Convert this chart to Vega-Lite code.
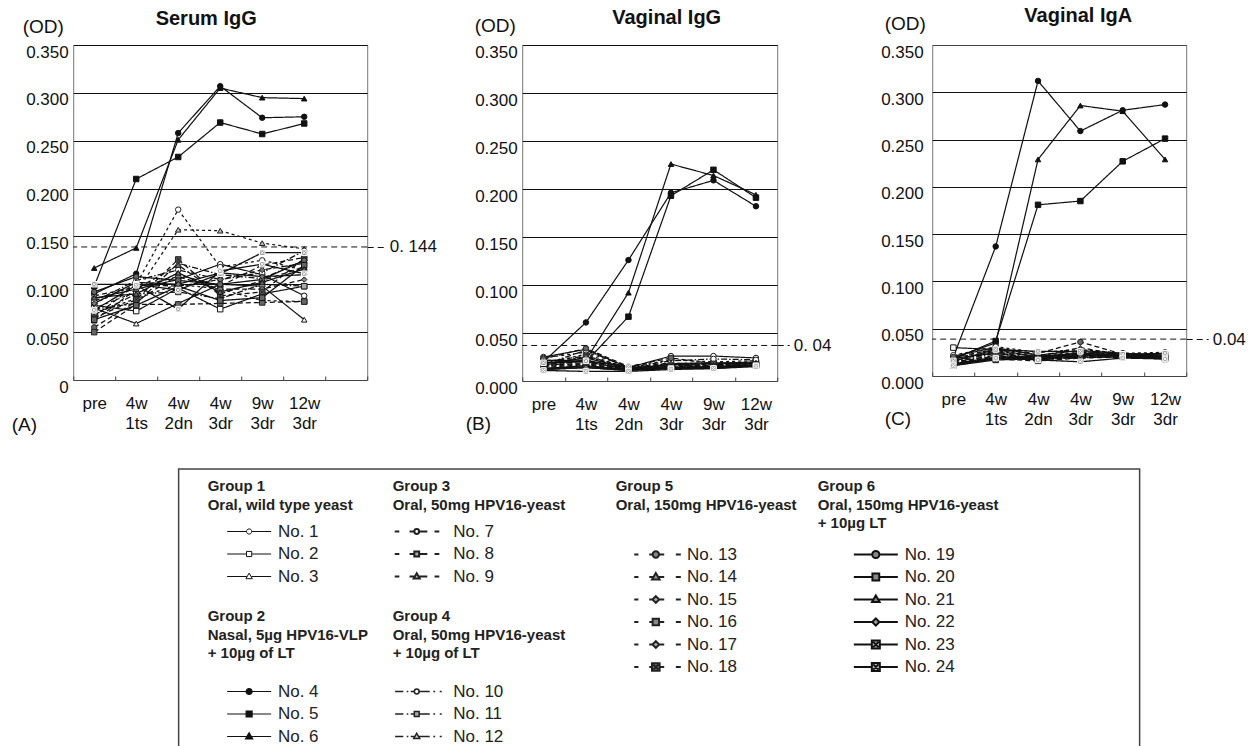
{
"$schema": "https://vega.github.io/schema/vega-lite/v6.json",
"padding": {"left": 10, "top": 5, "right": 0, "bottom": 0},
"background": "white",
"config": {
  "font": "Liberation Sans",
  "view": {"stroke": "#777", "strokeWidth": 1},
  "axis": {"labelFontSize": 17, "labelColor": "#111", "titleColor": "#111", "domain": false, "labelFont": "Liberation Sans", "titleFont": "Liberation Sans"},
  "title": {"font": "Liberation Sans", "fontSize": 20, "fontWeight": "bold", "color": "#111"},
  "legend": {"titleFontSize": 15, "titleFontWeight": "bold", "titleLineHeight": 18.5, "titleColor": "#222", "titleAnchor": "start", "titleBaseline": "top", "titleLimit": 400, "labelFontSize": 17, "labelColor": "#222", "labelBaseline": "middle", "labelLimit": 200, "symbolSize": 16, "symbolOpacity": 1, "rowPadding": 4.5, "padding": 0, "direction": "vertical", "orient": "none"}
},
"datasets": {
"od": [
{"p":"A","g":1,"n":1,"t":"pre","v":0.085},{"p":"A","g":1,"n":1,"t":"4w 1ts","v":0.095},{"p":"A","g":1,"n":1,"t":"4w 2dn","v":0.105},{"p":"A","g":1,"n":1,"t":"4w 3dr","v":0.121},{"p":"A","g":1,"n":1,"t":"9w 3dr","v":0.110},{"p":"A","g":1,"n":1,"t":"12w 3dr","v":0.088},
{"p":"A","g":1,"n":2,"t":"pre","v":0.078},{"p":"A","g":1,"n":2,"t":"4w 1ts","v":0.072},{"p":"A","g":1,"n":2,"t":"4w 2dn","v":0.096},{"p":"A","g":1,"n":2,"t":"4w 3dr","v":0.074},{"p":"A","g":1,"n":2,"t":"9w 3dr","v":0.090},{"p":"A","g":1,"n":2,"t":"12w 3dr","v":0.098},
{"p":"A","g":1,"n":3,"t":"pre","v":0.075},{"p":"A","g":1,"n":3,"t":"4w 1ts","v":0.059},{"p":"A","g":1,"n":3,"t":"4w 2dn","v":0.080},{"p":"A","g":1,"n":3,"t":"4w 3dr","v":0.100},{"p":"A","g":1,"n":3,"t":"9w 3dr","v":0.098},{"p":"A","g":1,"n":3,"t":"12w 3dr","v":0.063},
{"p":"A","g":2,"n":4,"t":"pre","v":0.090},{"p":"A","g":2,"n":4,"t":"4w 1ts","v":0.111},{"p":"A","g":2,"n":4,"t":"4w 2dn","v":0.258},{"p":"A","g":2,"n":4,"t":"4w 3dr","v":0.307},{"p":"A","g":2,"n":4,"t":"9w 3dr","v":0.274},{"p":"A","g":2,"n":4,"t":"12w 3dr","v":0.275},
{"p":"A","g":2,"n":5,"t":"pre","v":0.098},{"p":"A","g":2,"n":5,"t":"4w 1ts","v":0.210},{"p":"A","g":2,"n":5,"t":"4w 2dn","v":0.233},{"p":"A","g":2,"n":5,"t":"4w 3dr","v":0.269},{"p":"A","g":2,"n":5,"t":"9w 3dr","v":0.257},{"p":"A","g":2,"n":5,"t":"12w 3dr","v":0.268},
{"p":"A","g":2,"n":6,"t":"pre","v":0.117},{"p":"A","g":2,"n":6,"t":"4w 1ts","v":0.138},{"p":"A","g":2,"n":6,"t":"4w 2dn","v":0.251},{"p":"A","g":2,"n":6,"t":"4w 3dr","v":0.305},{"p":"A","g":2,"n":6,"t":"9w 3dr","v":0.295},{"p":"A","g":2,"n":6,"t":"12w 3dr","v":0.294},
{"p":"A","g":3,"n":7,"t":"pre","v":0.080},{"p":"A","g":3,"n":7,"t":"4w 1ts","v":0.100},{"p":"A","g":3,"n":7,"t":"4w 2dn","v":0.178},{"p":"A","g":3,"n":7,"t":"4w 3dr","v":0.118},{"p":"A","g":3,"n":7,"t":"9w 3dr","v":0.125},{"p":"A","g":3,"n":7,"t":"12w 3dr","v":0.115},
{"p":"A","g":3,"n":8,"t":"pre","v":0.070},{"p":"A","g":3,"n":8,"t":"4w 1ts","v":0.085},{"p":"A","g":3,"n":8,"t":"4w 2dn","v":0.100},{"p":"A","g":3,"n":8,"t":"4w 3dr","v":0.095},{"p":"A","g":3,"n":8,"t":"9w 3dr","v":0.083},{"p":"A","g":3,"n":8,"t":"12w 3dr","v":0.082},
{"p":"A","g":3,"n":9,"t":"pre","v":0.075},{"p":"A","g":3,"n":9,"t":"4w 1ts","v":0.092},{"p":"A","g":3,"n":9,"t":"4w 2dn","v":0.157},{"p":"A","g":3,"n":9,"t":"4w 3dr","v":0.156},{"p":"A","g":3,"n":9,"t":"9w 3dr","v":0.143},{"p":"A","g":3,"n":9,"t":"12w 3dr","v":0.137},
{"p":"A","g":4,"n":10,"t":"pre","v":0.082},{"p":"A","g":4,"n":10,"t":"4w 1ts","v":0.104},{"p":"A","g":4,"n":10,"t":"4w 2dn","v":0.115},{"p":"A","g":4,"n":10,"t":"4w 3dr","v":0.105},{"p":"A","g":4,"n":10,"t":"9w 3dr","v":0.112},{"p":"A","g":4,"n":10,"t":"12w 3dr","v":0.135},
{"p":"A","g":4,"n":11,"t":"pre","v":0.068},{"p":"A","g":4,"n":11,"t":"4w 1ts","v":0.090},{"p":"A","g":4,"n":11,"t":"4w 2dn","v":0.092},{"p":"A","g":4,"n":11,"t":"4w 3dr","v":0.085},{"p":"A","g":4,"n":11,"t":"9w 3dr","v":0.100},{"p":"A","g":4,"n":11,"t":"12w 3dr","v":0.098},
{"p":"A","g":4,"n":12,"t":"pre","v":0.074},{"p":"A","g":4,"n":12,"t":"4w 1ts","v":0.080},{"p":"A","g":4,"n":12,"t":"4w 2dn","v":0.122},{"p":"A","g":4,"n":12,"t":"4w 3dr","v":0.110},{"p":"A","g":4,"n":12,"t":"9w 3dr","v":0.106},{"p":"A","g":4,"n":12,"t":"12w 3dr","v":0.125},
{"p":"A","g":5,"n":13,"t":"pre","v":0.055},{"p":"A","g":5,"n":13,"t":"4w 1ts","v":0.082},{"p":"A","g":5,"n":13,"t":"4w 2dn","v":0.110},{"p":"A","g":5,"n":13,"t":"4w 3dr","v":0.098},{"p":"A","g":5,"n":13,"t":"9w 3dr","v":0.120},{"p":"A","g":5,"n":13,"t":"12w 3dr","v":0.128},
{"p":"A","g":5,"n":14,"t":"pre","v":0.062},{"p":"A","g":5,"n":14,"t":"4w 1ts","v":0.095},{"p":"A","g":5,"n":14,"t":"4w 2dn","v":0.120},{"p":"A","g":5,"n":14,"t":"4w 3dr","v":0.090},{"p":"A","g":5,"n":14,"t":"9w 3dr","v":0.104},{"p":"A","g":5,"n":14,"t":"12w 3dr","v":0.118},
{"p":"A","g":5,"n":15,"t":"pre","v":0.066},{"p":"A","g":5,"n":15,"t":"4w 1ts","v":0.100},{"p":"A","g":5,"n":15,"t":"4w 2dn","v":0.098},{"p":"A","g":5,"n":15,"t":"4w 3dr","v":0.105},{"p":"A","g":5,"n":15,"t":"9w 3dr","v":0.115},{"p":"A","g":5,"n":15,"t":"12w 3dr","v":0.122},
{"p":"A","g":5,"n":16,"t":"pre","v":0.050},{"p":"A","g":5,"n":16,"t":"4w 1ts","v":0.079},{"p":"A","g":5,"n":16,"t":"4w 2dn","v":0.079},{"p":"A","g":5,"n":16,"t":"4w 3dr","v":0.080},{"p":"A","g":5,"n":16,"t":"9w 3dr","v":0.081},{"p":"A","g":5,"n":16,"t":"12w 3dr","v":0.082},
{"p":"A","g":5,"n":17,"t":"pre","v":0.088},{"p":"A","g":5,"n":17,"t":"4w 1ts","v":0.097},{"p":"A","g":5,"n":17,"t":"4w 2dn","v":0.108},{"p":"A","g":5,"n":17,"t":"4w 3dr","v":0.095},{"p":"A","g":5,"n":17,"t":"9w 3dr","v":0.095},{"p":"A","g":5,"n":17,"t":"12w 3dr","v":0.105},
{"p":"A","g":5,"n":18,"t":"pre","v":0.065},{"p":"A","g":5,"n":18,"t":"4w 1ts","v":0.084},{"p":"A","g":5,"n":18,"t":"4w 2dn","v":0.126},{"p":"A","g":5,"n":18,"t":"4w 3dr","v":0.088},{"p":"A","g":5,"n":18,"t":"9w 3dr","v":0.092},{"p":"A","g":5,"n":18,"t":"12w 3dr","v":0.127},
{"p":"A","g":6,"n":19,"t":"pre","v":0.092},{"p":"A","g":6,"n":19,"t":"4w 1ts","v":0.108},{"p":"A","g":6,"n":19,"t":"4w 2dn","v":0.104},{"p":"A","g":6,"n":19,"t":"4w 3dr","v":0.100},{"p":"A","g":6,"n":19,"t":"9w 3dr","v":0.105},{"p":"A","g":6,"n":19,"t":"12w 3dr","v":0.125},
{"p":"A","g":6,"n":20,"t":"pre","v":0.063},{"p":"A","g":6,"n":20,"t":"4w 1ts","v":0.078},{"p":"A","g":6,"n":20,"t":"4w 2dn","v":0.098},{"p":"A","g":6,"n":20,"t":"4w 3dr","v":0.083},{"p":"A","g":6,"n":20,"t":"9w 3dr","v":0.086},{"p":"A","g":6,"n":20,"t":"12w 3dr","v":0.120},
{"p":"A","g":6,"n":21,"t":"pre","v":0.086},{"p":"A","g":6,"n":21,"t":"4w 1ts","v":0.090},{"p":"A","g":6,"n":21,"t":"4w 2dn","v":0.112},{"p":"A","g":6,"n":21,"t":"4w 3dr","v":0.092},{"p":"A","g":6,"n":21,"t":"9w 3dr","v":0.102},{"p":"A","g":6,"n":21,"t":"12w 3dr","v":0.116},
{"p":"A","g":6,"n":22,"t":"pre","v":0.080},{"p":"A","g":6,"n":22,"t":"4w 1ts","v":0.102},{"p":"A","g":6,"n":22,"t":"4w 2dn","v":0.100},{"p":"A","g":6,"n":22,"t":"4w 3dr","v":0.112},{"p":"A","g":6,"n":22,"t":"9w 3dr","v":0.108},{"p":"A","g":6,"n":22,"t":"12w 3dr","v":0.110},
{"p":"A","g":6,"n":23,"t":"pre","v":0.100},{"p":"A","g":6,"n":23,"t":"4w 1ts","v":0.100},{"p":"A","g":6,"n":23,"t":"4w 2dn","v":0.094},{"p":"A","g":6,"n":23,"t":"4w 3dr","v":0.111},{"p":"A","g":6,"n":23,"t":"9w 3dr","v":0.133},{"p":"A","g":6,"n":23,"t":"12w 3dr","v":0.133},
{"p":"A","g":6,"n":24,"t":"pre","v":0.073},{"p":"A","g":6,"n":24,"t":"4w 1ts","v":0.099},{"p":"A","g":6,"n":24,"t":"4w 2dn","v":0.074},{"p":"A","g":6,"n":24,"t":"4w 3dr","v":0.114},{"p":"A","g":6,"n":24,"t":"9w 3dr","v":0.121},{"p":"A","g":6,"n":24,"t":"12w 3dr","v":0.111},
{"p":"B","g":1,"n":1,"t":"pre","v":0.025},{"p":"B","g":1,"n":1,"t":"4w 1ts","v":0.033},{"p":"B","g":1,"n":1,"t":"4w 2dn","v":0.014},{"p":"B","g":1,"n":1,"t":"4w 3dr","v":0.026},{"p":"B","g":1,"n":1,"t":"9w 3dr","v":0.026},{"p":"B","g":1,"n":1,"t":"12w 3dr","v":0.024},
{"p":"B","g":1,"n":2,"t":"pre","v":0.022},{"p":"B","g":1,"n":2,"t":"4w 1ts","v":0.020},{"p":"B","g":1,"n":2,"t":"4w 2dn","v":0.012},{"p":"B","g":1,"n":2,"t":"4w 3dr","v":0.018},{"p":"B","g":1,"n":2,"t":"9w 3dr","v":0.019},{"p":"B","g":1,"n":2,"t":"12w 3dr","v":0.019},
{"p":"B","g":1,"n":3,"t":"pre","v":0.018},{"p":"B","g":1,"n":3,"t":"4w 1ts","v":0.024},{"p":"B","g":1,"n":3,"t":"4w 2dn","v":0.013},{"p":"B","g":1,"n":3,"t":"4w 3dr","v":0.017},{"p":"B","g":1,"n":3,"t":"9w 3dr","v":0.018},{"p":"B","g":1,"n":3,"t":"12w 3dr","v":0.020},
{"p":"B","g":2,"n":4,"t":"pre","v":0.020},{"p":"B","g":2,"n":4,"t":"4w 1ts","v":0.061},{"p":"B","g":2,"n":4,"t":"4w 2dn","v":0.126},{"p":"B","g":2,"n":4,"t":"4w 3dr","v":0.196},{"p":"B","g":2,"n":4,"t":"9w 3dr","v":0.209},{"p":"B","g":2,"n":4,"t":"12w 3dr","v":0.182},
{"p":"B","g":2,"n":5,"t":"pre","v":0.019},{"p":"B","g":2,"n":5,"t":"4w 1ts","v":0.020},{"p":"B","g":2,"n":5,"t":"4w 2dn","v":0.067},{"p":"B","g":2,"n":5,"t":"4w 3dr","v":0.193},{"p":"B","g":2,"n":5,"t":"9w 3dr","v":0.220},{"p":"B","g":2,"n":5,"t":"12w 3dr","v":0.191},
{"p":"B","g":2,"n":6,"t":"pre","v":0.021},{"p":"B","g":2,"n":6,"t":"4w 1ts","v":0.022},{"p":"B","g":2,"n":6,"t":"4w 2dn","v":0.092},{"p":"B","g":2,"n":6,"t":"4w 3dr","v":0.226},{"p":"B","g":2,"n":6,"t":"9w 3dr","v":0.214},{"p":"B","g":2,"n":6,"t":"12w 3dr","v":0.194},
{"p":"B","g":3,"n":7,"t":"pre","v":0.024},{"p":"B","g":3,"n":7,"t":"4w 1ts","v":0.030},{"p":"B","g":3,"n":7,"t":"4w 2dn","v":0.015},{"p":"B","g":3,"n":7,"t":"4w 3dr","v":0.022},{"p":"B","g":3,"n":7,"t":"9w 3dr","v":0.020},{"p":"B","g":3,"n":7,"t":"12w 3dr","v":0.021},
{"p":"B","g":3,"n":8,"t":"pre","v":0.016},{"p":"B","g":3,"n":8,"t":"4w 1ts","v":0.026},{"p":"B","g":3,"n":8,"t":"4w 2dn","v":0.012},{"p":"B","g":3,"n":8,"t":"4w 3dr","v":0.016},{"p":"B","g":3,"n":8,"t":"9w 3dr","v":0.017},{"p":"B","g":3,"n":8,"t":"12w 3dr","v":0.018},
{"p":"B","g":3,"n":9,"t":"pre","v":0.018},{"p":"B","g":3,"n":9,"t":"4w 1ts","v":0.028},{"p":"B","g":3,"n":9,"t":"4w 2dn","v":0.013},{"p":"B","g":3,"n":9,"t":"4w 3dr","v":0.018},{"p":"B","g":3,"n":9,"t":"9w 3dr","v":0.019},{"p":"B","g":3,"n":9,"t":"12w 3dr","v":0.019},
{"p":"B","g":4,"n":10,"t":"pre","v":0.017},{"p":"B","g":4,"n":10,"t":"4w 1ts","v":0.032},{"p":"B","g":4,"n":10,"t":"4w 2dn","v":0.014},{"p":"B","g":4,"n":10,"t":"4w 3dr","v":0.021},{"p":"B","g":4,"n":10,"t":"9w 3dr","v":0.023},{"p":"B","g":4,"n":10,"t":"12w 3dr","v":0.022},
{"p":"B","g":4,"n":11,"t":"pre","v":0.015},{"p":"B","g":4,"n":11,"t":"4w 1ts","v":0.022},{"p":"B","g":4,"n":11,"t":"4w 2dn","v":0.012},{"p":"B","g":4,"n":11,"t":"4w 3dr","v":0.015},{"p":"B","g":4,"n":11,"t":"9w 3dr","v":0.016},{"p":"B","g":4,"n":11,"t":"12w 3dr","v":0.017},
{"p":"B","g":4,"n":12,"t":"pre","v":0.016},{"p":"B","g":4,"n":12,"t":"4w 1ts","v":0.025},{"p":"B","g":4,"n":12,"t":"4w 2dn","v":0.013},{"p":"B","g":4,"n":12,"t":"4w 3dr","v":0.017},{"p":"B","g":4,"n":12,"t":"9w 3dr","v":0.018},{"p":"B","g":4,"n":12,"t":"12w 3dr","v":0.018},
{"p":"B","g":5,"n":13,"t":"pre","v":0.023},{"p":"B","g":5,"n":13,"t":"4w 1ts","v":0.034},{"p":"B","g":5,"n":13,"t":"4w 2dn","v":0.015},{"p":"B","g":5,"n":13,"t":"4w 3dr","v":0.024},{"p":"B","g":5,"n":13,"t":"9w 3dr","v":0.018},{"p":"B","g":5,"n":13,"t":"12w 3dr","v":0.018},
{"p":"B","g":5,"n":14,"t":"pre","v":0.020},{"p":"B","g":5,"n":14,"t":"4w 1ts","v":0.026},{"p":"B","g":5,"n":14,"t":"4w 2dn","v":0.014},{"p":"B","g":5,"n":14,"t":"4w 3dr","v":0.019},{"p":"B","g":5,"n":14,"t":"9w 3dr","v":0.017},{"p":"B","g":5,"n":14,"t":"12w 3dr","v":0.019},
{"p":"B","g":5,"n":15,"t":"pre","v":0.017},{"p":"B","g":5,"n":15,"t":"4w 1ts","v":0.021},{"p":"B","g":5,"n":15,"t":"4w 2dn","v":0.013},{"p":"B","g":5,"n":15,"t":"4w 3dr","v":0.016},{"p":"B","g":5,"n":15,"t":"9w 3dr","v":0.016},{"p":"B","g":5,"n":15,"t":"12w 3dr","v":0.018},
{"p":"B","g":5,"n":16,"t":"pre","v":0.015},{"p":"B","g":5,"n":16,"t":"4w 1ts","v":0.018},{"p":"B","g":5,"n":16,"t":"4w 2dn","v":0.012},{"p":"B","g":5,"n":16,"t":"4w 3dr","v":0.014},{"p":"B","g":5,"n":16,"t":"9w 3dr","v":0.015},{"p":"B","g":5,"n":16,"t":"12w 3dr","v":0.017},
{"p":"B","g":5,"n":17,"t":"pre","v":0.016},{"p":"B","g":5,"n":17,"t":"4w 1ts","v":0.019},{"p":"B","g":5,"n":17,"t":"4w 2dn","v":0.013},{"p":"B","g":5,"n":17,"t":"4w 3dr","v":0.015},{"p":"B","g":5,"n":17,"t":"9w 3dr","v":0.016},{"p":"B","g":5,"n":17,"t":"12w 3dr","v":0.017},
{"p":"B","g":5,"n":18,"t":"pre","v":0.014},{"p":"B","g":5,"n":18,"t":"4w 1ts","v":0.017},{"p":"B","g":5,"n":18,"t":"4w 2dn","v":0.012},{"p":"B","g":5,"n":18,"t":"4w 3dr","v":0.014},{"p":"B","g":5,"n":18,"t":"9w 3dr","v":0.015},{"p":"B","g":5,"n":18,"t":"12w 3dr","v":0.016},
{"p":"B","g":6,"n":19,"t":"pre","v":0.013},{"p":"B","g":6,"n":19,"t":"4w 1ts","v":0.016},{"p":"B","g":6,"n":19,"t":"4w 2dn","v":0.012},{"p":"B","g":6,"n":19,"t":"4w 3dr","v":0.013},{"p":"B","g":6,"n":19,"t":"9w 3dr","v":0.014},{"p":"B","g":6,"n":19,"t":"12w 3dr","v":0.016},
{"p":"B","g":6,"n":20,"t":"pre","v":0.012},{"p":"B","g":6,"n":20,"t":"4w 1ts","v":0.014},{"p":"B","g":6,"n":20,"t":"4w 2dn","v":0.011},{"p":"B","g":6,"n":20,"t":"4w 3dr","v":0.013},{"p":"B","g":6,"n":20,"t":"9w 3dr","v":0.014},{"p":"B","g":6,"n":20,"t":"12w 3dr","v":0.016},
{"p":"B","g":6,"n":21,"t":"pre","v":0.013},{"p":"B","g":6,"n":21,"t":"4w 1ts","v":0.015},{"p":"B","g":6,"n":21,"t":"4w 2dn","v":0.012},{"p":"B","g":6,"n":21,"t":"4w 3dr","v":0.014},{"p":"B","g":6,"n":21,"t":"9w 3dr","v":0.015},{"p":"B","g":6,"n":21,"t":"12w 3dr","v":0.017},
{"p":"B","g":6,"n":22,"t":"pre","v":0.012},{"p":"B","g":6,"n":22,"t":"4w 1ts","v":0.014},{"p":"B","g":6,"n":22,"t":"4w 2dn","v":0.011},{"p":"B","g":6,"n":22,"t":"4w 3dr","v":0.014},{"p":"B","g":6,"n":22,"t":"9w 3dr","v":0.015},{"p":"B","g":6,"n":22,"t":"12w 3dr","v":0.016},
{"p":"B","g":6,"n":23,"t":"pre","v":0.019},{"p":"B","g":6,"n":23,"t":"4w 1ts","v":0.021},{"p":"B","g":6,"n":23,"t":"4w 2dn","v":0.015},{"p":"B","g":6,"n":23,"t":"4w 3dr","v":0.013},{"p":"B","g":6,"n":23,"t":"9w 3dr","v":0.013},{"p":"B","g":6,"n":23,"t":"12w 3dr","v":0.016},
{"p":"B","g":6,"n":24,"t":"pre","v":0.011},{"p":"B","g":6,"n":24,"t":"4w 1ts","v":0.010},{"p":"B","g":6,"n":24,"t":"4w 2dn","v":0.010},{"p":"B","g":6,"n":24,"t":"4w 3dr","v":0.012},{"p":"B","g":6,"n":24,"t":"9w 3dr","v":0.013},{"p":"B","g":6,"n":24,"t":"12w 3dr","v":0.015},
{"p":"C","g":1,"n":1,"t":"pre","v":0.021},{"p":"C","g":1,"n":1,"t":"4w 1ts","v":0.030},{"p":"C","g":1,"n":1,"t":"4w 2dn","v":0.022},{"p":"C","g":1,"n":1,"t":"4w 3dr","v":0.027},{"p":"C","g":1,"n":1,"t":"9w 3dr","v":0.024},{"p":"C","g":1,"n":1,"t":"12w 3dr","v":0.022},
{"p":"C","g":1,"n":2,"t":"pre","v":0.030},{"p":"C","g":1,"n":2,"t":"4w 1ts","v":0.028},{"p":"C","g":1,"n":2,"t":"4w 2dn","v":0.020},{"p":"C","g":1,"n":2,"t":"4w 3dr","v":0.024},{"p":"C","g":1,"n":2,"t":"9w 3dr","v":0.022},{"p":"C","g":1,"n":2,"t":"12w 3dr","v":0.021},
{"p":"C","g":1,"n":3,"t":"pre","v":0.019},{"p":"C","g":1,"n":3,"t":"4w 1ts","v":0.024},{"p":"C","g":1,"n":3,"t":"4w 2dn","v":0.018},{"p":"C","g":1,"n":3,"t":"4w 3dr","v":0.022},{"p":"C","g":1,"n":3,"t":"9w 3dr","v":0.021},{"p":"C","g":1,"n":3,"t":"12w 3dr","v":0.020},
{"p":"C","g":2,"n":4,"t":"pre","v":0.020},{"p":"C","g":2,"n":4,"t":"4w 1ts","v":0.137},{"p":"C","g":2,"n":4,"t":"4w 2dn","v":0.312},{"p":"C","g":2,"n":4,"t":"4w 3dr","v":0.259},{"p":"C","g":2,"n":4,"t":"9w 3dr","v":0.281},{"p":"C","g":2,"n":4,"t":"12w 3dr","v":0.287},
{"p":"C","g":2,"n":5,"t":"pre","v":0.018},{"p":"C","g":2,"n":5,"t":"4w 1ts","v":0.037},{"p":"C","g":2,"n":5,"t":"4w 2dn","v":0.181},{"p":"C","g":2,"n":5,"t":"4w 3dr","v":0.185},{"p":"C","g":2,"n":5,"t":"9w 3dr","v":0.227},{"p":"C","g":2,"n":5,"t":"12w 3dr","v":0.251},
{"p":"C","g":2,"n":6,"t":"pre","v":0.019},{"p":"C","g":2,"n":6,"t":"4w 1ts","v":0.035},{"p":"C","g":2,"n":6,"t":"4w 2dn","v":0.229},{"p":"C","g":2,"n":6,"t":"4w 3dr","v":0.286},{"p":"C","g":2,"n":6,"t":"9w 3dr","v":0.280},{"p":"C","g":2,"n":6,"t":"12w 3dr","v":0.229},
{"p":"C","g":3,"n":7,"t":"pre","v":0.022},{"p":"C","g":3,"n":7,"t":"4w 1ts","v":0.031},{"p":"C","g":3,"n":7,"t":"4w 2dn","v":0.025},{"p":"C","g":3,"n":7,"t":"4w 3dr","v":0.028},{"p":"C","g":3,"n":7,"t":"9w 3dr","v":0.024},{"p":"C","g":3,"n":7,"t":"12w 3dr","v":0.025},
{"p":"C","g":3,"n":8,"t":"pre","v":0.016},{"p":"C","g":3,"n":8,"t":"4w 1ts","v":0.027},{"p":"C","g":3,"n":8,"t":"4w 2dn","v":0.020},{"p":"C","g":3,"n":8,"t":"4w 3dr","v":0.023},{"p":"C","g":3,"n":8,"t":"9w 3dr","v":0.022},{"p":"C","g":3,"n":8,"t":"12w 3dr","v":0.023},
{"p":"C","g":3,"n":9,"t":"pre","v":0.018},{"p":"C","g":3,"n":9,"t":"4w 1ts","v":0.029},{"p":"C","g":3,"n":9,"t":"4w 2dn","v":0.022},{"p":"C","g":3,"n":9,"t":"4w 3dr","v":0.025},{"p":"C","g":3,"n":9,"t":"9w 3dr","v":0.023},{"p":"C","g":3,"n":9,"t":"12w 3dr","v":0.024},
{"p":"C","g":4,"n":10,"t":"pre","v":0.017},{"p":"C","g":4,"n":10,"t":"4w 1ts","v":0.026},{"p":"C","g":4,"n":10,"t":"4w 2dn","v":0.017},{"p":"C","g":4,"n":10,"t":"4w 3dr","v":0.020},{"p":"C","g":4,"n":10,"t":"9w 3dr","v":0.022},{"p":"C","g":4,"n":10,"t":"12w 3dr","v":0.021},
{"p":"C","g":4,"n":11,"t":"pre","v":0.015},{"p":"C","g":4,"n":11,"t":"4w 1ts","v":0.022},{"p":"C","g":4,"n":11,"t":"4w 2dn","v":0.018},{"p":"C","g":4,"n":11,"t":"4w 3dr","v":0.019},{"p":"C","g":4,"n":11,"t":"9w 3dr","v":0.021},{"p":"C","g":4,"n":11,"t":"12w 3dr","v":0.020},
{"p":"C","g":4,"n":12,"t":"pre","v":0.016},{"p":"C","g":4,"n":12,"t":"4w 1ts","v":0.024},{"p":"C","g":4,"n":12,"t":"4w 2dn","v":0.019},{"p":"C","g":4,"n":12,"t":"4w 3dr","v":0.021},{"p":"C","g":4,"n":12,"t":"9w 3dr","v":0.022},{"p":"C","g":4,"n":12,"t":"12w 3dr","v":0.022},
{"p":"C","g":5,"n":13,"t":"pre","v":0.020},{"p":"C","g":5,"n":13,"t":"4w 1ts","v":0.028},{"p":"C","g":5,"n":13,"t":"4w 2dn","v":0.024},{"p":"C","g":5,"n":13,"t":"4w 3dr","v":0.036},{"p":"C","g":5,"n":13,"t":"9w 3dr","v":0.023},{"p":"C","g":5,"n":13,"t":"12w 3dr","v":0.022},
{"p":"C","g":5,"n":14,"t":"pre","v":0.017},{"p":"C","g":5,"n":14,"t":"4w 1ts","v":0.025},{"p":"C","g":5,"n":14,"t":"4w 2dn","v":0.021},{"p":"C","g":5,"n":14,"t":"4w 3dr","v":0.030},{"p":"C","g":5,"n":14,"t":"9w 3dr","v":0.022},{"p":"C","g":5,"n":14,"t":"12w 3dr","v":0.021},
{"p":"C","g":5,"n":15,"t":"pre","v":0.015},{"p":"C","g":5,"n":15,"t":"4w 1ts","v":0.021},{"p":"C","g":5,"n":15,"t":"4w 2dn","v":0.019},{"p":"C","g":5,"n":15,"t":"4w 3dr","v":0.025},{"p":"C","g":5,"n":15,"t":"9w 3dr","v":0.021},{"p":"C","g":5,"n":15,"t":"12w 3dr","v":0.020},
{"p":"C","g":5,"n":16,"t":"pre","v":0.014},{"p":"C","g":5,"n":16,"t":"4w 1ts","v":0.019},{"p":"C","g":5,"n":16,"t":"4w 2dn","v":0.017},{"p":"C","g":5,"n":16,"t":"4w 3dr","v":0.021},{"p":"C","g":5,"n":16,"t":"9w 3dr","v":0.020},{"p":"C","g":5,"n":16,"t":"12w 3dr","v":0.019},
{"p":"C","g":5,"n":17,"t":"pre","v":0.013},{"p":"C","g":5,"n":17,"t":"4w 1ts","v":0.020},{"p":"C","g":5,"n":17,"t":"4w 2dn","v":0.018},{"p":"C","g":5,"n":17,"t":"4w 3dr","v":0.022},{"p":"C","g":5,"n":17,"t":"9w 3dr","v":0.021},{"p":"C","g":5,"n":17,"t":"12w 3dr","v":0.020},
{"p":"C","g":5,"n":18,"t":"pre","v":0.014},{"p":"C","g":5,"n":18,"t":"4w 1ts","v":0.018},{"p":"C","g":5,"n":18,"t":"4w 2dn","v":0.016},{"p":"C","g":5,"n":18,"t":"4w 3dr","v":0.019},{"p":"C","g":5,"n":18,"t":"9w 3dr","v":0.020},{"p":"C","g":5,"n":18,"t":"12w 3dr","v":0.019},
{"p":"C","g":6,"n":19,"t":"pre","v":0.012},{"p":"C","g":6,"n":19,"t":"4w 1ts","v":0.019},{"p":"C","g":6,"n":19,"t":"4w 2dn","v":0.020},{"p":"C","g":6,"n":19,"t":"4w 3dr","v":0.023},{"p":"C","g":6,"n":19,"t":"9w 3dr","v":0.021},{"p":"C","g":6,"n":19,"t":"12w 3dr","v":0.019},
{"p":"C","g":6,"n":20,"t":"pre","v":0.011},{"p":"C","g":6,"n":20,"t":"4w 1ts","v":0.017},{"p":"C","g":6,"n":20,"t":"4w 2dn","v":0.018},{"p":"C","g":6,"n":20,"t":"4w 3dr","v":0.020},{"p":"C","g":6,"n":20,"t":"9w 3dr","v":0.020},{"p":"C","g":6,"n":20,"t":"12w 3dr","v":0.018},
{"p":"C","g":6,"n":21,"t":"pre","v":0.013},{"p":"C","g":6,"n":21,"t":"4w 1ts","v":0.020},{"p":"C","g":6,"n":21,"t":"4w 2dn","v":0.021},{"p":"C","g":6,"n":21,"t":"4w 3dr","v":0.024},{"p":"C","g":6,"n":21,"t":"9w 3dr","v":0.022},{"p":"C","g":6,"n":21,"t":"12w 3dr","v":0.020},
{"p":"C","g":6,"n":22,"t":"pre","v":0.012},{"p":"C","g":6,"n":22,"t":"4w 1ts","v":0.018},{"p":"C","g":6,"n":22,"t":"4w 2dn","v":0.019},{"p":"C","g":6,"n":22,"t":"4w 3dr","v":0.022},{"p":"C","g":6,"n":22,"t":"9w 3dr","v":0.021},{"p":"C","g":6,"n":22,"t":"12w 3dr","v":0.019},
{"p":"C","g":6,"n":23,"t":"pre","v":0.016},{"p":"C","g":6,"n":23,"t":"4w 1ts","v":0.028},{"p":"C","g":6,"n":23,"t":"4w 2dn","v":0.026},{"p":"C","g":6,"n":23,"t":"4w 3dr","v":0.026},{"p":"C","g":6,"n":23,"t":"9w 3dr","v":0.023},{"p":"C","g":6,"n":23,"t":"12w 3dr","v":0.024},
{"p":"C","g":6,"n":24,"t":"pre","v":0.011},{"p":"C","g":6,"n":24,"t":"4w 1ts","v":0.019},{"p":"C","g":6,"n":24,"t":"4w 2dn","v":0.017},{"p":"C","g":6,"n":24,"t":"4w 3dr","v":0.015},{"p":"C","g":6,"n":24,"t":"9w 3dr","v":0.019},{"p":"C","g":6,"n":24,"t":"12w 3dr","v":0.018}
]
},
"vconcat": [
{
"hconcat": [
{
 "width": 294, "height": 335,
 "title": {"text": "Serum IgG", "frame": "group", "anchor": "middle", "dx": -14, "dy": 46, "offset": 18, "baseline": "alphabetic"},
 "layer": [
  {"data": {"name": "od"}, "transform": [{"filter": "datum.p == 'A'"}],
   "mark": {"type": "line", "color": "#111"},
   "encoding": {
    "x": {"field": "t", "type": "ordinal", "scale": {"type": "band", "domain": ["pre","4w 1ts","4w 2dn","4w 3dr","9w 3dr","12w 3dr",""], "paddingInner": 0, "paddingOuter": 0},
          "axis": {"tickBand": "extent", "ticks": true, "tickSize": -4, "tickColor": "#444", "labelExpr": "split(datum.label, ' ')", "labelAngle": 0, "labelBaseline": "top", "labelLineHeight": 20, "labelPadding": 19, "title": "(A)", "titleX": -62, "titleY": 44, "titleAlign": "left", "titleBaseline": "middle", "titleFontSize": 19, "titleFontWeight": "normal", "grid": false}},
    "y": {"field": "v", "type": "quantitative", "scale": {"domain": [0, 0.35], "nice": false},
          "axis": {"values": [0,0.05,0.1,0.15,0.2,0.25,0.3,0.35], "labelExpr": "datum.value == 0 ? '0' : format(datum.value, '.3f')", "grid": true, "gridColor": {"condition": {"test": "datum.value == 0", "value": "#444"}, "value": "#111"}, "ticks": false, "labelPadding": 5, "labelOffset": 7, "title": "(OD)", "titleAngle": 0, "titleX": -51, "titleY": -19, "titleAlign": "left", "titleBaseline": "middle", "titleFontSize": 19, "titleFontWeight": "normal"}},
    "detail": {"field": "n", "type": "nominal"},
    "order": {"value": null},
    "strokeDash": {"field": "g", "type": "nominal", "scale": {"domain": [1,2,3,4,5,6], "range": [[1,0],[1,0],[3,3],[6,2,1.5,2],[5,3],[1,0]]}, "legend": null},
    "strokeWidth": {"field": "g", "type": "nominal", "scale": {"domain": [1,2,3,4,5,6], "range": [1.2,1.3,2.4,1.6,2.6,1.8]}, "legend": null}
   }},
  {"data": {"name": "od"}, "transform": [{"filter": "datum.p == 'A'"}],
   "mark": {"type": "point", "filled": true, "strokeWidth": 1, "opacity": 1},
   "encoding": {
    "x": {"field": "t", "type": "ordinal", "scale": {"type": "band", "domain": ["pre","4w 1ts","4w 2dn","4w 3dr","9w 3dr","12w 3dr",""], "paddingInner": 0, "paddingOuter": 0},
          "axis": {"tickBand": "extent", "ticks": true, "tickSize": -4, "tickColor": "#444", "labelExpr": "split(datum.label, ' ')", "labelAngle": 0, "labelBaseline": "top", "labelLineHeight": 20, "labelPadding": 19, "title": "(A)", "titleX": -62, "titleY": 44, "titleAlign": "left", "titleBaseline": "middle", "titleFontSize": 19, "titleFontWeight": "normal", "grid": false}},
    "y": {"field": "v", "type": "quantitative", "scale": {"domain": [0, 0.35], "nice": false}, "axis": null},
    "shape": {"field": "n", "type": "nominal", "scale": {"domain": [1,2,3,4,5,6,7,8,9,10,11,12,13,14,15,16,17,18,19,20,21,22,23,24], "range": ["circle","square","triangle-up","circle","square","triangle-up","circle","square","triangle-up","circle","square","triangle-up","circle","triangle-up","diamond","square","diamond","M-1,-1H1V1H-1ZM-0.6,-0.6L0.6,0.6M0.6,-0.6L-0.6,0.6","circle","square","triangle-up","diamond","M-1,-1H1V1H-1ZM-0.6,-0.6L0.6,0.6M0.6,-0.6L-0.6,0.6","M-1,-1H1V1H-1ZM-0.6,-0.6L0.6,0.6M0.6,-0.6L-0.6,0.6"]}, "legend": null},
    "fill": {"field": "n", "type": "nominal", "scale": {"domain": [1,2,3,4,5,6,7,8,9,10,11,12,13,14,15,16,17,18,19,20,21,22,23,24], "range": ["white","white","white","#111","#111","#111","white","#999","#bbb","white","#aaa","#bbb","#666","#777","#777","#666","#888","#555","#666","#666","#666","#777","#999","#aaa"]}, "legend": null},
    "stroke": {"field": "n", "type": "nominal", "scale": {"domain": [1,2,3,4,5,6,7,8,9,10,11,12,13,14,15,16,17,18,19,20,21,22,23,24], "range": ["#111","#111","#111","#111","#111","#111","#222","#222","#222","#222","#222","#222","#222","#222","#222","#222","#222","#222","#111","#111","#111","#111","white","white"]}, "legend": null},
    "size": {"field": "n", "type": "nominal", "scale": {"domain": [1,2,3,4,5,6,7,8,9,10,11,12,13,14,15,16,17,18,19,20,21,22,23,24], "range": [30,30,30,30,30,34,26,26,26,26,26,26,45,45,45,45,45,80,45,45,45,45,95,95]}, "legend": null}
   }},
  {"data": {"values": [{"thr": 0.139}]},
   "mark": {"type": "rule", "strokeDash": [6,4], "color": "#111", "strokeWidth": 1},
   "encoding": {"y": {"field": "thr", "type": "quantitative", "scale": {"domain": [0, 0.35], "nice": false},
     "axis": {"orient": "right", "values": [0.139], "labelExpr": "'0. 144'", "grid": false, "ticks": true, "tickSize": 18, "tickColor": "#111", "tickDash": [6,4], "tickWidth": 1, "labelPadding": 4, "labelOffset": 0, "title": null}}}}
 ],
 "resolve": {"scale": {"y": "independent"}}
},
{
 "width": 255, "height": 336,
 "title": {"text": "Vaginal IgG", "frame": "group", "anchor": "middle", "dx": 17, "dy": 46, "offset": 18, "baseline": "alphabetic"},
 "layer": [
  {"data": {"name": "od"}, "transform": [{"filter": "datum.p == 'B'"}],
   "mark": {"type": "line", "color": "#111"},
   "encoding": {
    "x": {"field": "t", "type": "ordinal", "scale": {"type": "band", "domain": ["pre","4w 1ts","4w 2dn","4w 3dr","9w 3dr","12w 3dr"], "paddingInner": 0, "paddingOuter": 0},
          "axis": {"tickBand": "extent", "ticks": true, "tickSize": -4, "tickColor": "#444", "labelExpr": "split(datum.label, ' ')", "labelAngle": 0, "labelBaseline": "top", "labelLineHeight": 20, "labelPadding": 19, "title": "(B)", "titleX": -57, "titleY": 42, "titleAlign": "left", "titleBaseline": "middle", "titleFontSize": 19, "titleFontWeight": "normal", "grid": false}},
    "y": {"field": "v", "type": "quantitative", "scale": {"domain": [0, 0.35], "nice": false},
          "axis": {"values": [0,0.05,0.1,0.15,0.2,0.25,0.3,0.35], "format": ".3f", "grid": true, "gridColor": {"condition": {"test": "datum.value == 0", "value": "#444"}, "value": "#111"}, "ticks": false, "labelPadding": 5, "labelOffset": 7, "title": "(OD)", "titleAngle": 0, "titleX": -48, "titleY": -20, "titleAlign": "left", "titleBaseline": "middle", "titleFontSize": 19, "titleFontWeight": "normal"}},
    "detail": {"field": "n", "type": "nominal"},
    "order": {"value": null},
    "strokeDash": {"field": "g", "type": "nominal", "scale": {"domain": [1,2,3,4,5,6], "range": [[1,0],[1,0],[3,3],[6,2,1.5,2],[5,3],[1,0]]}, "legend": null},
    "strokeWidth": {"field": "g", "type": "nominal", "scale": {"domain": [1,2,3,4,5,6], "range": [1.2,1.3,2.4,1.6,3,4]}, "legend": null}
   }},
  {"data": {"name": "od"}, "transform": [{"filter": "datum.p == 'B'"}],
   "mark": {"type": "point", "filled": true, "strokeWidth": 1, "opacity": 1},
   "encoding": {
    "x": {"field": "t", "type": "ordinal", "scale": {"type": "band", "domain": ["pre","4w 1ts","4w 2dn","4w 3dr","9w 3dr","12w 3dr"], "paddingInner": 0, "paddingOuter": 0},
          "axis": {"tickBand": "extent", "ticks": true, "tickSize": -4, "tickColor": "#444", "labelExpr": "split(datum.label, ' ')", "labelAngle": 0, "labelBaseline": "top", "labelLineHeight": 20, "labelPadding": 19, "title": "(B)", "titleX": -57, "titleY": 42, "titleAlign": "left", "titleBaseline": "middle", "titleFontSize": 19, "titleFontWeight": "normal", "grid": false}},
    "y": {"field": "v", "type": "quantitative", "scale": {"domain": [0, 0.35], "nice": false}, "axis": null},
    "shape": {"field": "n", "type": "nominal", "scale": {"domain": [1,2,3,4,5,6,7,8,9,10,11,12,13,14,15,16,17,18,19,20,21,22,23,24], "range": ["circle","square","triangle-up","circle","square","triangle-up","circle","square","triangle-up","circle","square","triangle-up","circle","triangle-up","diamond","square","diamond","M-1,-1H1V1H-1ZM-0.6,-0.6L0.6,0.6M0.6,-0.6L-0.6,0.6","circle","square","triangle-up","diamond","M-1,-1H1V1H-1ZM-0.6,-0.6L0.6,0.6M0.6,-0.6L-0.6,0.6","M-1,-1H1V1H-1ZM-0.6,-0.6L0.6,0.6M0.6,-0.6L-0.6,0.6"]}, "legend": null},
    "fill": {"field": "n", "type": "nominal", "scale": {"domain": [1,2,3,4,5,6,7,8,9,10,11,12,13,14,15,16,17,18,19,20,21,22,23,24], "range": ["white","white","white","#111","#111","#111","white","#999","#bbb","white","#aaa","#bbb","#666","#777","#777","#666","#888","#555","#666","#666","#666","#777","#999","#aaa"]}, "legend": null},
    "stroke": {"field": "n", "type": "nominal", "scale": {"domain": [1,2,3,4,5,6,7,8,9,10,11,12,13,14,15,16,17,18,19,20,21,22,23,24], "range": ["#111","#111","#111","#111","#111","#111","#222","#222","#222","#222","#222","#222","#222","#222","#222","#222","#222","#222","#111","#111","#111","#111","white","white"]}, "legend": null},
    "size": {"field": "n", "type": "nominal", "scale": {"domain": [1,2,3,4,5,6,7,8,9,10,11,12,13,14,15,16,17,18,19,20,21,22,23,24], "range": [30,30,30,30,30,34,26,26,26,26,26,26,45,45,45,45,45,80,45,45,45,45,95,95]}, "legend": null}
   }},
  {"data": {"values": [{"thr": 0.037}]},
   "mark": {"type": "rule", "strokeDash": [6,4], "color": "#111", "strokeWidth": 1},
   "encoding": {"y": {"field": "thr", "type": "quantitative", "scale": {"domain": [0, 0.35], "nice": false},
     "axis": {"orient": "right", "values": [0.037], "labelExpr": "'0. 04'", "grid": false, "ticks": true, "tickSize": 12, "tickColor": "#111", "tickDash": [6,4], "tickWidth": 1, "labelPadding": 4, "labelOffset": 0, "title": null}}}}
 ],
 "resolve": {"scale": {"y": "independent"}}
},
{
 "width": 254, "height": 331,
 "title": {"text": "Vaginal IgA", "frame": "group", "anchor": "middle", "dx": 19, "dy": 46, "offset": 18, "baseline": "alphabetic"},
 "layer": [
  {"data": {"name": "od"}, "transform": [{"filter": "datum.p == 'C'"}],
   "mark": {"type": "line", "color": "#111"},
   "encoding": {
    "x": {"field": "t", "type": "ordinal", "scale": {"type": "band", "domain": ["pre","4w 1ts","4w 2dn","4w 3dr","9w 3dr","12w 3dr"], "paddingInner": 0, "paddingOuter": 0},
          "axis": {"tickBand": "extent", "ticks": true, "tickSize": -4, "tickColor": "#444", "labelExpr": "split(datum.label, ' ')", "labelAngle": 0, "labelBaseline": "top", "labelLineHeight": 20, "labelPadding": 19, "title": "(C)", "titleX": -48, "titleY": 42, "titleAlign": "left", "titleBaseline": "middle", "titleFontSize": 19, "titleFontWeight": "normal", "grid": false}},
    "y": {"field": "v", "type": "quantitative", "scale": {"domain": [0, 0.35], "nice": false},
          "axis": {"values": [0,0.05,0.1,0.15,0.2,0.25,0.3,0.35], "format": ".3f", "grid": true, "gridColor": {"condition": {"test": "datum.value == 0 || datum.value == 0.35", "value": "#444"}, "value": "#111"}, "ticks": false, "labelPadding": 9, "labelOffset": 7, "title": "(OD)", "titleAngle": 0, "titleX": -48, "titleY": -22, "titleAlign": "left", "titleBaseline": "middle", "titleFontSize": 19, "titleFontWeight": "normal"}},
    "detail": {"field": "n", "type": "nominal"},
    "order": {"value": null},
    "strokeDash": {"field": "g", "type": "nominal", "scale": {"domain": [1,2,3,4,5,6], "range": [[1,0],[1,0],[3,3],[6,2,1.5,2],[5,3],[1,0]]}, "legend": null},
    "strokeWidth": {"field": "g", "type": "nominal", "scale": {"domain": [1,2,3,4,5,6], "range": [1.2,1.3,2.4,1.6,3,4]}, "legend": null}
   }},
  {"data": {"name": "od"}, "transform": [{"filter": "datum.p == 'C'"}],
   "mark": {"type": "point", "filled": true, "strokeWidth": 1, "opacity": 1},
   "encoding": {
    "x": {"field": "t", "type": "ordinal", "scale": {"type": "band", "domain": ["pre","4w 1ts","4w 2dn","4w 3dr","9w 3dr","12w 3dr"], "paddingInner": 0, "paddingOuter": 0},
          "axis": {"tickBand": "extent", "ticks": true, "tickSize": -4, "tickColor": "#444", "labelExpr": "split(datum.label, ' ')", "labelAngle": 0, "labelBaseline": "top", "labelLineHeight": 20, "labelPadding": 19, "title": "(C)", "titleX": -48, "titleY": 42, "titleAlign": "left", "titleBaseline": "middle", "titleFontSize": 19, "titleFontWeight": "normal", "grid": false}},
    "y": {"field": "v", "type": "quantitative", "scale": {"domain": [0, 0.35], "nice": false}, "axis": null},
    "shape": {"field": "n", "type": "nominal", "scale": {"domain": [1,2,3,4,5,6,7,8,9,10,11,12,13,14,15,16,17,18,19,20,21,22,23,24], "range": ["circle","square","triangle-up","circle","square","triangle-up","circle","square","triangle-up","circle","square","triangle-up","circle","triangle-up","diamond","square","diamond","M-1,-1H1V1H-1ZM-0.6,-0.6L0.6,0.6M0.6,-0.6L-0.6,0.6","circle","square","triangle-up","diamond","M-1,-1H1V1H-1ZM-0.6,-0.6L0.6,0.6M0.6,-0.6L-0.6,0.6","M-1,-1H1V1H-1ZM-0.6,-0.6L0.6,0.6M0.6,-0.6L-0.6,0.6"]}, "legend": null},
    "fill": {"field": "n", "type": "nominal", "scale": {"domain": [1,2,3,4,5,6,7,8,9,10,11,12,13,14,15,16,17,18,19,20,21,22,23,24], "range": ["white","white","white","#111","#111","#111","white","#999","#bbb","white","#aaa","#bbb","#666","#777","#777","#666","#888","#555","#666","#666","#666","#777","#999","#aaa"]}, "legend": null},
    "stroke": {"field": "n", "type": "nominal", "scale": {"domain": [1,2,3,4,5,6,7,8,9,10,11,12,13,14,15,16,17,18,19,20,21,22,23,24], "range": ["#111","#111","#111","#111","#111","#111","#222","#222","#222","#222","#222","#222","#222","#222","#222","#222","#222","#222","#111","#111","#111","#111","white","white"]}, "legend": null},
    "size": {"field": "n", "type": "nominal", "scale": {"domain": [1,2,3,4,5,6,7,8,9,10,11,12,13,14,15,16,17,18,19,20,21,22,23,24], "range": [30,30,30,30,30,34,26,26,26,26,26,26,45,45,45,45,45,80,45,45,45,45,95,95]}, "legend": null}
   }},
  {"data": {"values": [{"thr": 0.039}]},
   "mark": {"type": "rule", "strokeDash": [6,4], "color": "#111", "strokeWidth": 1},
   "encoding": {"y": {"field": "thr", "type": "quantitative", "scale": {"domain": [0, 0.35], "nice": false},
     "axis": {"orient": "right", "values": [0.039], "labelExpr": "'0.04'", "grid": false, "ticks": true, "tickSize": 22, "tickColor": "#111", "tickDash": [6,4], "tickWidth": 1, "labelPadding": 4, "labelOffset": 0, "title": null}}}}
 ],
 "resolve": {"scale": {"y": "independent"}}
}
],
"spacing": 155,
"bounds": "flush"
},
{
 "width": 961, "height": 300,
 "view": {"stroke": "#444", "strokeWidth": 1.5},
 "data": {"values": []},
 "layer": [
  {"mark": {"type": "point", "filled": false},
   "encoding": {
    "shape": {"field": "n", "type": "nominal", "scale": {"domain": ["No. 1","No. 2","No. 3"], "range": [
      "M-11,0H-1.3M1.3,0H11M-1.3,0A1.3,1.3 0 1,1 1.3,0A1.3,1.3 0 1,1 -1.3,0Z",
      "M-11,0H-1.3M1.3,0H11M-1.3,-1.3H1.3V1.3H-1.3Z",
      "M-11,0H-1.1M1.1,0H11M0,-1.7L1.6,1.1H-1.6Z"]},
     "legend": {"title": ["Group 1", "Oral, wild type yeast"], "legendX": 29, "legendY": 10, "symbolOffset": 33, "labelOffset": 20.3, "titlePadding": 10.5, "symbolStrokeWidth": 1}},
    "fill": {"field": "n", "type": "nominal", "scale": {"domain": ["No. 1","No. 2","No. 3"], "range": ["white","white","white"]}},
    "stroke": {"field": "n", "type": "nominal", "scale": {"domain": ["No. 1","No. 2","No. 3"], "range": ["#111","#111","#111"]}}
   }},
  {"mark": {"type": "point", "filled": false},
   "encoding": {
    "shape": {"field": "n", "type": "nominal", "scale": {"domain": ["No. 4","No. 5","No. 6"], "range": [
      "M-11,0H-1.5M1.5,0H11M-1.5,0A1.5,1.5 0 1,1 1.5,0A1.5,1.5 0 1,1 -1.5,0Z",
      "M-11,0H-1.5M1.5,0H11M-1.5,-1.5H1.5V1.5H-1.5Z",
      "M-11,0H-1.2M1.2,0H11M0,-1.9L1.8,1.2H-1.8Z"]},
     "legend": {"title": ["Group 2", "Nasal, 5µg HPV16-VLP", "+ 10µg of LT"], "legendX": 29, "legendY": 140, "symbolOffset": 33, "labelOffset": 20.3, "titlePadding": 22, "symbolStrokeWidth": 1.2}},
    "fill": {"field": "n", "type": "nominal", "scale": {"domain": ["No. 4","No. 5","No. 6"], "range": ["#111","#111","#111"]}},
    "stroke": {"field": "n", "type": "nominal", "scale": {"domain": ["No. 4","No. 5","No. 6"], "range": ["#111","#111","#111"]}}
   }},
  {"mark": {"type": "point", "filled": false},
   "encoding": {
    "shape": {"field": "n", "type": "nominal", "scale": {"domain": ["No. 7","No. 8","No. 9"], "range": [
      "M-11,0H-8.7M-3.6,0H-1.2M1.2,0H5.3M8.9,0H11.3M-1.2,0A1.2,1.2 0 1,1 1.2,0A1.2,1.2 0 1,1 -1.2,0Z",
      "M-11,0H-8.7M-3.6,0H-1.2M1.2,0H5.3M8.9,0H11.3M-1.2,-1.2H1.2V1.2H-1.2Z",
      "M-11,0H-8.7M-3.6,0H-1M1,0H5.3M8.9,0H11.3M0,-1.6L1.5,1H-1.5Z"]},
     "legend": {"title": ["Group 3", "Oral, 50mg HPV16-yeast"], "legendX": 214, "legendY": 10, "symbolOffset": 15.6, "labelOffset": 28, "titlePadding": 10.5, "symbolStrokeWidth": 2}},
    "fill": {"field": "n", "type": "nominal", "scale": {"domain": ["No. 7","No. 8","No. 9"], "range": ["white","#aaa","#ccc"]}},
    "stroke": {"field": "n", "type": "nominal", "scale": {"domain": ["No. 7","No. 8","No. 9"], "range": ["#222","#222","#222"]}}
   }},
  {"mark": {"type": "point", "filled": false},
   "encoding": {
    "shape": {"field": "n", "type": "nominal", "scale": {"domain": ["No. 10","No. 11","No. 12"], "range": [
      "M-10.8,0H-6.7M-5,0H-4.2M-3,0H-1.2M1.2,0H6.5M8.3,0H9.2M11.5,0H12.5M-1.2,0A1.2,1.2 0 1,1 1.2,0A1.2,1.2 0 1,1 -1.2,0Z",
      "M-10.8,0H-6.7M-5,0H-4.2M-3,0H-1.2M1.2,0H6.5M8.3,0H9.2M11.5,0H12.5M-1.2,-1.2H1.2V1.2H-1.2Z",
      "M-10.8,0H-6.7M-5,0H-4.2M-3,0H-1M1,0H6.5M8.3,0H9.2M11.5,0H12.5M0,-1.6L1.5,1H-1.5Z"]},
     "legend": {"title": ["Group 4", "Oral, 50mg HPV16-yeast", "+ 10µg of LT"], "legendX": 214, "legendY": 140, "symbolOffset": 15.6, "labelOffset": 28, "titlePadding": 22, "symbolStrokeWidth": 1.5}},
    "fill": {"field": "n", "type": "nominal", "scale": {"domain": ["No. 10","No. 11","No. 12"], "range": ["white","#aaa","#ccc"]}},
    "stroke": {"field": "n", "type": "nominal", "scale": {"domain": ["No. 10","No. 11","No. 12"], "range": ["#222","#222","#222"]}}
   }},
  {"mark": {"type": "point", "filled": false},
   "encoding": {
    "shape": {"field": "n", "type": "nominal", "scale": {"domain": ["No. 13","No. 14","No. 15","No. 16","No. 17","No. 18"], "range": [
      "M-10.8,0H-8.7M-3.3,0H-1.6M1.6,0H4.2M10,0H12.5M-1.6,0A1.6,1.6 0 1,1 1.6,0A1.6,1.6 0 1,1 -1.6,0Z",
      "M-10.8,0H-8.7M-3.3,0H-1.3M1.3,0H4.2M10,0H12.5M0,-2L1.9,1.3H-1.9Z",
      "M-10.8,0H-8.7M-3.3,0H-1.7M1.7,0H4.2M10,0H12.5M0,-1.7L1.7,0L0,1.7L-1.7,0Z",
      "M-10.8,0H-8.7M-3.3,0H-1.6M1.6,0H4.2M10,0H12.5M-1.6,-1.6H1.6V1.6H-1.6Z",
      "M-10.8,0H-8.7M-3.3,0H-1.7M1.7,0H4.2M10,0H12.5M0,-1.7L1.7,0L0,1.7L-1.7,0Z",
      "M-10.8,0H-8.7M-3.3,0H-1.9M1.9,0H4.2M10,0H12.5M-1.9,-1.9H1.9V1.9H-1.9ZM-1.2,-1.2L1.2,1.2M1.2,-1.2L-1.2,1.2"]},
     "legend": {"title": ["Group 5", "Oral, 150mg HPV16-yeast"], "legendX": 437, "legendY": 10, "symbolOffset": 31.7, "labelOffset": 22.6, "titlePadding": 33.5, "symbolStrokeWidth": 2}},
    "fill": {"field": "n", "type": "nominal", "scale": {"domain": ["No. 13","No. 14","No. 15","No. 16","No. 17","No. 18"], "range": ["#888","#999","#aaa","#888","#aaa","#777"]}},
    "stroke": {"field": "n", "type": "nominal", "scale": {"domain": ["No. 13","No. 14","No. 15","No. 16","No. 17","No. 18"], "range": ["#222","#222","#222","#222","#222","#222"]}}
   }},
  {"mark": {"type": "point", "filled": false},
   "encoding": {
    "shape": {"field": "n", "type": "nominal", "scale": {"domain": ["No. 19","No. 20","No. 21","No. 22","No. 23","No. 24"], "range": [
      "M-11,0H-1.8M1.8,0H11M-1.8,0A1.8,1.8 0 1,1 1.8,0A1.8,1.8 0 1,1 -1.8,0Z",
      "M-11,0H-1.7M1.7,0H11M-1.7,-1.7H1.7V1.7H-1.7Z",
      "M-11,0H-1.3M1.3,0H11M0,-2L1.9,1.3H-1.9Z",
      "M-11,0H-1.8M1.8,0H11M0,-1.8L1.8,0L0,1.8L-1.8,0Z",
      "M-11,0H-2M2,0H11M-2,-2H2V2H-2ZM-1.3,-1.3L1.3,1.3M1.3,-1.3L-1.3,1.3",
      "M-11,0H-2M2,0H11M-2,-2H2V2H-2ZM-1.3,-1.3L1.3,1.3M1.3,-1.3L-1.3,1.3"]},
     "legend": {"title": ["Group 6", "Oral, 150mg HPV16-yeast", "+ 10µg LT"], "legendX": 639, "legendY": 10, "symbolOffset": 49.7, "labelOffset": 20.3, "titlePadding": 15, "symbolStrokeWidth": 2}},
    "fill": {"field": "n", "type": "nominal", "scale": {"domain": ["No. 19","No. 20","No. 21","No. 22","No. 23","No. 24"], "range": ["#888","#888","#888","#999","#bbb","#bbb"]}},
    "stroke": {"field": "n", "type": "nominal", "scale": {"domain": ["No. 19","No. 20","No. 21","No. 22","No. 23","No. 24"], "range": ["#111","#111","#111","#111","#111","#111"]}}
   }}
 ],
 "resolve": {"scale": {"shape": "independent", "fill": "independent", "stroke": "independent"}, "legend": {"shape": "independent", "fill": "independent", "stroke": "independent"}}
}
],
"spacing": 33,
"center": true
}
